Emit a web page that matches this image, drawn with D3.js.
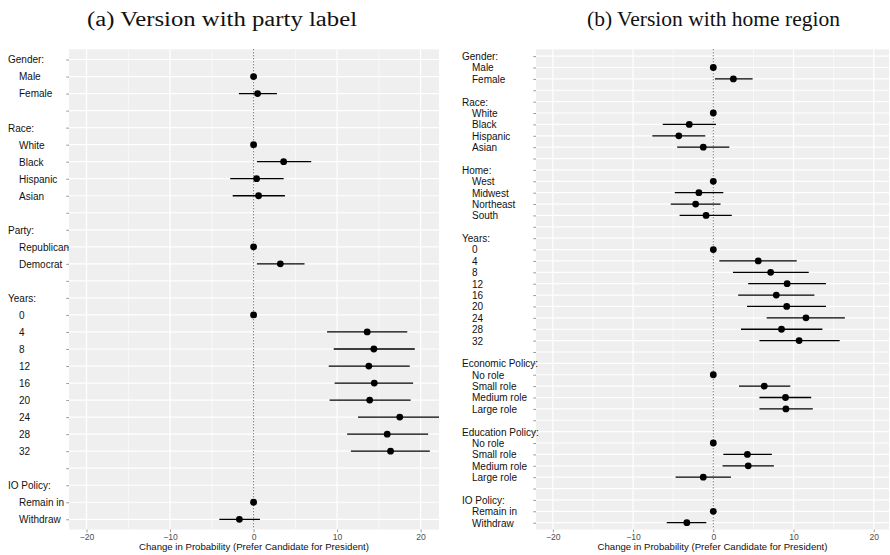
<!DOCTYPE html>
<html>
<head>
<meta charset="utf-8">
<script src="https://cdn.jsdelivr.net/npm/d3@7"></script>
<style>
  body { margin: 0; background: #fff; }
  svg { display: block; }
</style>
</head>
<body>
<svg id="chart" width="890" height="555"></svg>
<script>
// ---------- DATA ----------
const titleA = "(a)  Version with party label";
const titleB = "(b)  Version with home region";
const xTitle = "Change in Probability (Prefer Candidate for President)";
const xTicksMajor = [-20, -10, 0, 10, 20];
const xTicksMinor = [-15, -5, 5, 15];

const leftLabels = ["Gender:", "Male", "Female", "",
  "Race:", "White", "Black", "Hispanic", "Asian", "",
  "Party:", "Republican", "Democrat", "",
  "Years:", "0", "4", "8", "12", "16", "20", "24", "28", "32", "",
  "IO Policy:", "Remain in", "Withdraw"];
const leftEst = [null, 0, 0.48, null,
  null, 0, 3.6, 0.36, 0.6, null,
  null, 0, 3.2, null,
  null, 0, 13.6, 14.4, 13.8, 14.45, 13.9, 17.5, 16.0, 16.4, null,
  null, 0, -1.7];
const leftLo = [null, null, -1.76, null,
  null, null, 0.4, -2.8, -2.5, null,
  null, null, 0.4, null,
  null, null, 8.8, 9.6, 9.0, 9.7, 9.1, 12.5, 11.2, 11.65, null,
  null, null, -4.1];
const leftHi = [null, null, 2.8, null,
  null, null, 6.9, 3.6, 3.75, null,
  null, null, 6.1, null,
  null, null, 18.4, 19.3, 18.7, 19.1, 18.8, 22.6, 20.9, 21.1, null,
  null, null, 0.76];

const rightLabels = ["Gender:", "Male", "Female", "",
  "Race:", "White", "Black", "Hispanic", "Asian", "",
  "Home:", "West", "Midwest", "Northeast", "South", "",
  "Years:", "0", "4", "8", "12", "16", "20", "24", "28", "32", "",
  "Economic Policy:", "No role", "Small role", "Medium role", "Large role", "",
  "Education Policy:", "No role", "Small role", "Medium role", "Large role", "",
  "IO Policy:", "Remain in", "Withdraw"];
const rightEst = [null, 0, 2.5, null,
  null, 0, -3.0, -4.3, -1.25, null,
  null, 0, -1.8, -2.2, -0.9, null,
  null, 0, 5.6, 7.15, 9.2, 7.85, 9.15, 11.55, 8.5, 10.7, null,
  null, 0, 6.35, 9.0, 9.05, null,
  null, 0, 4.25, 4.35, -1.25, null,
  null, 0, -3.3];
const rightLo = [null, null, 0.2, null,
  null, null, -6.3, -7.6, -4.5, null,
  null, null, -4.8, -5.3, -4.2, null,
  null, null, 0.75, 2.45, 4.35, 3.1, 4.2, 6.65, 3.45, 5.75, null,
  null, null, 3.2, 5.75, 5.75, null,
  null, null, 1.25, 1.15, -4.7, null,
  null, null, -5.8];
const rightHi = [null, null, 4.9, null,
  null, null, 0.33, -1.0, 2.0, null,
  null, null, 1.25, 0.9, 2.3, null,
  null, null, 10.4, 11.9, 14.05, 12.6, 14.05, 16.4, 13.6, 15.75, null,
  null, null, 9.6, 12.2, 12.4, null,
  null, null, 7.3, 7.55, 2.2, null,
  null, null, -0.87];

// ---------- DRAW ----------
const svg = d3.select("#chart");
const sans = "'Liberation Sans', Arial, Helvetica, sans-serif";

function panel(cfg) {
  const { id, labels, est, lo, hi, x0, x1, top, bottom, domain, labelX, indent, title, titleX, titleW } = cfg;
  const g = svg.append("g");
  const x = d3.scaleLinear().domain(domain).range([x0, x1]);
  const idx = labels.map((d, i) => i);
  const y = d3.scalePoint().domain(idx).range([top, bottom]).padding(0.6);

  svg.append("text").attr("x", titleX).attr("y", 26)
    .attr("font-family", "'Liberation Serif', 'Times New Roman', serif")
    .attr("font-size", 20.5).attr("fill", "#111")
    .attr("textLength", titleW).attr("lengthAdjust", "spacingAndGlyphs")
    .text(title);

  g.append("rect").attr("x", x0).attr("y", top).attr("width", x1 - x0).attr("height", bottom - top)
    .attr("fill", "#EFEFEF");

  g.selectAll(".vmin").data(xTicksMinor).join("line")
    .attr("x1", d => x(d)).attr("x2", d => x(d)).attr("y1", top).attr("y2", bottom)
    .attr("stroke", "#fff").attr("stroke-width", 0.6);
  g.selectAll(".vmaj").data(xTicksMajor).join("line")
    .attr("x1", d => x(d)).attr("x2", d => x(d)).attr("y1", top).attr("y2", bottom)
    .attr("stroke", "#fff").attr("stroke-width", 1.2);
  g.selectAll(".hmaj").data(idx).join("line")
    .attr("x1", x0).attr("x2", x1).attr("y1", d => y(d)).attr("y2", d => y(d))
    .attr("stroke", "#fff").attr("stroke-width", 1.2);

  g.append("line").attr("x1", x(0)).attr("x2", x(0)).attr("y1", top).attr("y2", bottom)
    .attr("stroke", "#444").attr("stroke-width", 1).attr("stroke-dasharray", "1,2");

  svg.append("clipPath").attr("id", "clip" + id).append("rect")
    .attr("x", x0).attr("y", top).attr("width", x1 - x0).attr("height", bottom - top);
  const marks = g.append("g").attr("clip-path", `url(#clip${id})`);

  const bars = idx.filter(i => lo[i] !== null && hi[i] !== null);
  marks.selectAll(".ci").data(bars).join("line")
    .attr("x1", i => x(lo[i])).attr("x2", i => x(hi[i]))
    .attr("y1", i => y(i)).attr("y2", i => y(i))
    .attr("stroke", "#000").attr("stroke-width", 1.3);
  const pts = idx.filter(i => est[i] !== null);
  marks.selectAll(".pt").data(pts).join("circle")
    .attr("cx", i => x(est[i])).attr("cy", i => y(i)).attr("r", 3.4)
    .attr("fill", "#000");

  const ya = g.append("g").attr("transform", `translate(${x0},0)`)
    .call(d3.axisLeft(y).tickSize(2.75).tickPadding(0).tickFormat(i => labels[i]));
  ya.select(".domain").remove();
  ya.selectAll(".tick line").attr("stroke", "#333").attr("stroke-width", 0.5);
  ya.selectAll(".tick text")
    .attr("text-anchor", "start")
    .attr("x", i => (labels[i].endsWith(":") ? labelX : labelX + indent) - x0)
    .attr("dy", "0.34em")
    .attr("font-family", sans).attr("font-size", 10).attr("fill", "#111");

  const xa = g.append("g").attr("transform", `translate(0,${bottom})`)
    .call(d3.axisBottom(x).tickValues(xTicksMajor).tickSize(2.75).tickPadding(1.5));
  xa.select(".domain").remove();
  xa.selectAll(".tick line").attr("stroke", "#333").attr("stroke-width", 0.5);
  xa.selectAll(".tick text").attr("font-family", sans).attr("font-size", 8.6).attr("fill", "#4D4D4D");

  g.append("text").attr("x", (x0 + x1) / 2).attr("y", 550).attr("text-anchor", "middle")
    .attr("font-family", sans).attr("font-size", 9.6).attr("fill", "#111").text(xTitle);
}

panel({ id: "a", labels: leftLabels, est: leftEst, lo: leftLo, hi: leftHi,
  x0: 69, x1: 439, top: 49.3, bottom: 529.5, domain: [-22.1, 22.2],
  labelX: 8, indent: 11, title: titleA, titleX: 87, titleW: 270 });
panel({ id: "b", labels: rightLabels, est: rightEst, lo: rightLo, hi: rightHi,
  x0: 536, x1: 889, top: 49.3, bottom: 529.5, domain: [-22.1, 21.9],
  labelX: 462, indent: 10, title: titleB, titleX: 587, titleW: 253 });
</script>
</body>
</html>
